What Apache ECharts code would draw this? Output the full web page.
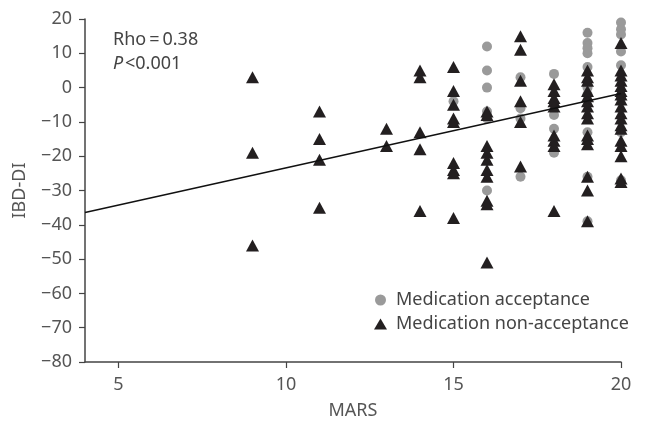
<!DOCTYPE html>
<html>
<head>
<meta charset="utf-8">
<script src="https://cdn.jsdelivr.net/npm/echarts@6/dist/echarts.min.js"></script>
<style>html,body{margin:0;padding:0;background:#fff}#c{width:645px;height:436px}</style>
</head>
<body>
<div id="c"></div>
<script>
// MARS score columns with IBD-DI values
var acceptX = [15, 16,16,16,16,16,16, 17,17,17,17, 18,18,18,18, 19,19,19,19,19,19,19,19,19,19, 20,20,20,20,20,20,20,20,20];
var acceptY = [-4, 12,5,0,-7,-9,-30, 3,-6,-9,-26, 4,-8,-12,-19, 16,13,11.5,10,6,0,-2,-13,-26,-39, 20.5,19,17,15.5,10.5,6.5,-3,-13,-27];

var nonX = [9,9,9, 11,11,11,11, 13,13, 14,14,14,14,14,
  15,15,15,15,15,15,15,15,15,
  16,16,16,16,16,16,16,16,16,16,
  17,17,17,17,17,17,
  18,18,18,18,18,18,18,18,18,
  19,19,19,19,19,19,19,19,19,19,19,19,19,19,19,
  20,20,20,20,20,20,20,20,20,20,20,20,20,20,20,20,20,20];
var nonY = [3,-19,-46, -7,-15,-21,-35, -12,-17, 5,3,-13,-18,-36,
  6,-1,-5,-9,-10,-22,-24,-25,-38,
  -7,-8,-17,-19,-21,-24,-26,-33,-34,-51,
  15,11,2,-4,-10,-23,
  1,-1,-3,-4,-5.5,-14,-15.5,-17,-36,
  5,3,2,-1,-2.5,-4,-5.5,-7.5,-9,-14,-15,-16.5,-26,-30,-39,
  13,5,3.5,2,0.5,-1,-2,-3.5,-5.5,-7.5,-9,-11,-12,-15.5,-17,-20,-26.5,-27.5];

var fitX = [4, 20];
var fitY = [-36.4, -1.7];

var xTicks = [5, 10, 15, 20];
var seriesNames = ['Medication acceptance', 'Medication non-acceptance'];

function zip(a, b) { return a.map(function (v, i) { return [v, b[i]]; }); }

var font = "'Noto Sans', sans-serif";
var chart = echarts.init(document.getElementById('c'));
chart.setOption({
  animation: false,
  textStyle: { fontFamily: font },
  grid: { left: 85, right: 24, top: 19, bottom: 74 },
  legend: {
    data: [
      { name: seriesNames[0], icon: 'circle', itemStyle: { color: '#9a9a9a', opacity: 1 } },
      { name: seriesNames[1], icon: 'triangle', itemStyle: { color: '#231f20', opacity: 1 } }
    ],
    orient: 'vertical',
    left: 369, top: 286,
    itemWidth: 13, itemHeight: 11, itemGap: 6,
    textStyle: { fontFamily: font, fontSize: 18, color: '#444', padding: [0, 0, 0, 4] }
  },
  xAxis: {
    type: 'value', min: 4, max: 20,
    name: 'MARS', nameLocation: 'middle', nameGap: 40,
    nameTextStyle: { fontSize: 18, color: '#555', fontFamily: font },
    axisLine: { onZero: false, lineStyle: { color: '#444', width: 1.5 } },
    axisTick: { show: true, length: 6, inside: false, customValues: xTicks, lineStyle: { color: '#444', width: 1.2 } },
    axisLabel: { fontSize: 18, color: '#555', margin: 14, customValues: xTicks },
    splitLine: { show: false }
  },
  yAxis: {
    type: 'value', min: -80, max: 20, interval: 10,
    name: 'IBD-DI', nameLocation: 'middle', nameGap: 56, nameRotate: 90,
    nameTextStyle: { fontSize: 18, color: '#555', fontFamily: font },
    axisLine: { show: true, onZero: false, lineStyle: { color: '#444', width: 1.5 } },
    axisTick: { show: true, length: 6, lineStyle: { color: '#444', width: 1.2 } },
    axisLabel: { fontSize: 18, color: '#555', margin: 13,
      formatter: function (v) { return v < 0 ? '\u2212' + Math.abs(v) : String(v); } },
    splitLine: { show: false }
  },
  graphic: [
    { type: 'text', left: 113, top: 31, style: { text: 'Rho\u2009=\u20090.38', fontSize: 18, fill: '#444', fontFamily: font } },
    { type: 'text', left: 113, top: 55, style: { text: 'P', fontSize: 18, fill: '#444', fontStyle: 'italic', fontFamily: font } },
    { type: 'text', left: 125, top: 55, style: { text: '<0.001', fontSize: 18, fill: '#444', fontFamily: font } }
  ],
  series: [
    { name: seriesNames[0], type: 'scatter', symbol: 'circle', symbolSize: 10,
      itemStyle: { color: '#9a9a9a', opacity: 1 }, data: zip(acceptX, acceptY), z: 2 },
    { name: seriesNames[1], type: 'scatter', symbol: 'triangle', symbolSize: [13, 12],
      itemStyle: { color: '#231f20', opacity: 1 }, data: zip(nonX, nonY), z: 3 },
    { name: 'fit', type: 'line', data: zip(fitX, fitY), symbol: 'none', silent: true,
      lineStyle: { color: '#111', width: 1.5 }, z: 4 }
  ]
});
</script>
</body>
</html>
